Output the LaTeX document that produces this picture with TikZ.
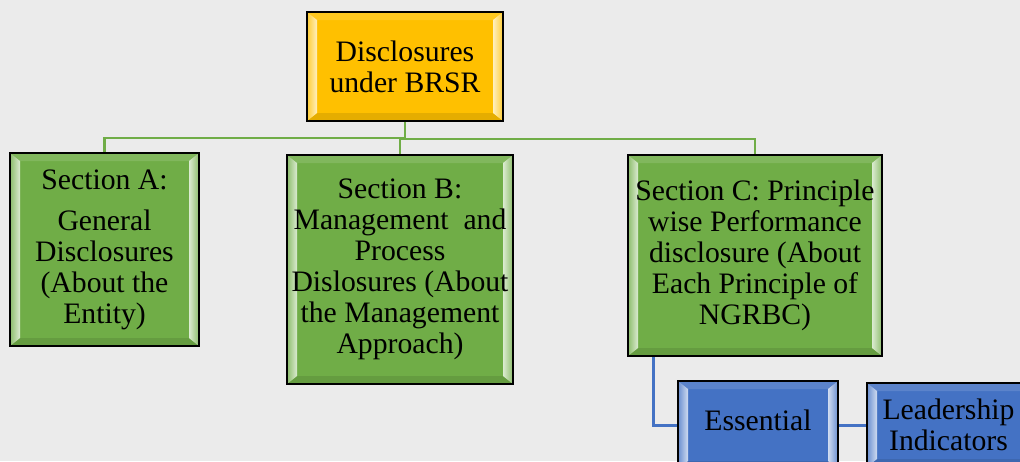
\documentclass[tikz,border=0pt]{standalone}
\usepackage{fontspec}
\setmainfont{Liberation Serif}
\usetikzlibrary{calc}
\definecolor{bg}{HTML}{EBEBEB}
\definecolor{gold}{HTML}{FFC000}
\definecolor{grn}{HTML}{70AD47}
\definecolor{blu}{HTML}{4472C4}
\tikzset{
  bx/.style={draw=black, line width=2.2pt, fill=#1, align=center, inner sep=0pt,
    font=\fontsize{29.7}{31}\selectfont,
    path picture={
      \coordinate (pnw) at (path picture bounding box.north west);
      \coordinate (pne) at (path picture bounding box.north east);
      \coordinate (psw) at (path picture bounding box.south west);
      \coordinate (pse) at (path picture bounding box.south east);
      \fill[#1!88!white] (pnw) -- (pne) -- ([xshift=-10pt,yshift=-8pt]pne) -- ([xshift=10pt,yshift=-8pt]pnw) -- cycle;
      \fill[#1!90!black] (psw) -- (pse) -- ([xshift=-10pt,yshift=8pt]pse) -- ([xshift=10pt,yshift=8pt]psw) -- cycle;
      \shade[left color=#1!80!white, right color=#1!25!white] (pnw) -- ([xshift=10pt,yshift=-8pt]pnw) -- ([xshift=10pt,yshift=8pt]psw) -- (psw) -- cycle;
      \shade[left color=#1!25!white, right color=#1!80!white] ([xshift=-10pt,yshift=-8pt]pne) -- (pne) -- (pse) -- ([xshift=-10pt,yshift=8pt]pse) -- cycle;
    }},
  txt/.style={align=center, inner sep=0pt, font=\fontsize{29.7}{31}\selectfont},
  gline/.style={draw=grn, line width=2.5pt},
  bline/.style={draw=blu, line width=3pt},
}
\begin{document}
\begin{tikzpicture}[x=1pt,y=-1pt]
\useasboundingbox (0,0) rectangle (1020,461);
\fill[bg] (0,0) rectangle (1020,461);
\clip (0,0) rectangle (1020,461);

\node[bx=gold, minimum width=196pt, minimum height=109pt] (top) at (405,66.5) {Disclosures\\under BRSR};
\node[bx=grn, minimum width=189pt, minimum height=193pt] (secA) at (104.5,249.5) {Section A:\\[10pt]General\\Disclosures\\(About the\\Entity)};
\node[bx=grn, minimum width=226pt, minimum height=229pt] (secB) at (400,269.5) {Section B:\\Management\ \ and\\Process\\Dislosures (About\\the Management\\Approach)};
\node[bx=grn, minimum width=254pt, minimum height=201pt] (secC) at (755,255.5) {Section C: Principle\\wise Performance\\disclosure (About\\Each Principle of\\NGRBC)};
\node[bx=blu, minimum width=160pt, minimum height=88pt] (ess) at (758,425) {};
\node[txt] (esst) at (758,420) {Essential};
\node[bx=blu, minimum width=163pt, minimum height=84pt] (lead) at (948.5,425) {Leadership\\Indicators};

\draw[gline] (top.south) -- ++(0,16) -| (secA.north);
\draw[gline] (secB.north) -- ++(0,-15) -| (secC.north);
\coordinate (cfree) at ([xshift=27pt]secC.south west);
\draw[bline] (cfree) |- (ess.west);
\draw[bline] (ess.east) -- (lead.west);
\end{tikzpicture}
\end{document}
